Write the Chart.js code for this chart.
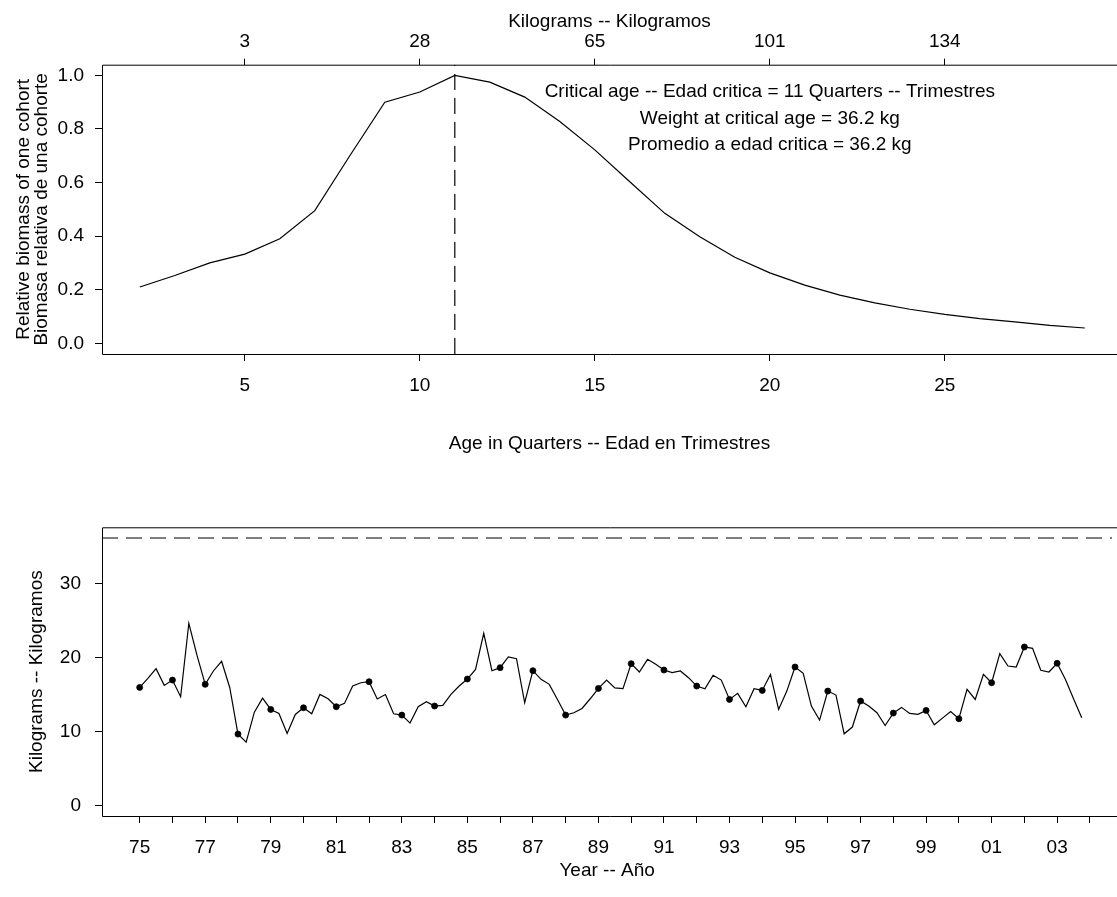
<!DOCTYPE html>
<html>
<head>
<meta charset="utf-8">
<title>Critical age and mean weight</title>
<script src="https://cdn.jsdelivr.net/npm/chart.js@4.4.0/dist/chart.umd.min.js"></script>
<style>
  html, body { margin: 0; padding: 0; background: #fff; overflow: hidden; }
  canvas { position: absolute; left: 0; }
  #cohortChart { top: 0; }
  #weightChart { top: 470px; }
</style>
</head>
<body>
<canvas id="cohortChart" width="1117" height="470"></canvas>
<canvas id="weightChart" width="1117" height="427"></canvas>
<script>
// --- top panel: relative biomass of one cohort by age (quarters)
const ages = [2, 3, 4, 5, 6, 7, 8, 9, 10, 11, 12, 13, 14, 15, 16, 17, 18, 19, 20, 21, 22, 23, 24, 25, 26, 27, 28, 29];
const relBiomass = [0.21, 0.253, 0.30, 0.333, 0.39, 0.495, 0.70, 0.90, 0.938, 1.0, 0.975, 0.919, 0.828, 0.722,
  0.603, 0.485, 0.398, 0.321, 0.263, 0.217, 0.180, 0.151, 0.127, 0.108, 0.092, 0.080, 0.067, 0.057];
const ageTicks = [5, 10, 15, 20, 25];
const kgTickLabels = ['3', '28', '65', '101', '134'];
const biomassTicks = [0, 0.2, 0.4, 0.6, 0.8, 1.0];
const criticalAge = 11;
const criticalWeight = 36.2;
const notes = [
  'Critical age -- Edad critica = 11 Quarters -- Trimestres',
  'Weight at critical age = 36.2 kg',
  'Promedio a edad critica = 36.2 kg',
];

// --- bottom panel: mean weight per quarter, 1975 Q1 onwards
const firstYear = 1975;
const quarterlyKg = [
  15.97, 17.2, 18.5, 16.24, 16.96, 14.7, 24.65, 20.3, 16.38, 18.19, 19.5, 15.92,
  9.64, 8.55, 12.62, 14.52, 12.98, 12.44, 9.73, 12.3, 13.21, 12.4, 15.02, 14.43,
  13.35, 13.8, 16.15, 16.6, 16.74, 14.4, 15.0, 12.4, 12.22, 11.13, 13.35, 14.02,
  13.44, 13.53, 15.02, 16.15, 17.1, 18.41, 23.3, 18.23, 18.64, 20.09, 19.86, 13.89,
  18.23, 17.06, 16.38, 14.34, 12.22, 12.53, 13.12, 14.43, 15.83, 16.96, 15.9, 15.79,
  19.18, 18.05, 19.77, 19.09, 18.32, 17.96, 18.19, 17.28, 16.15, 15.79, 17.6, 16.96,
  14.34, 15.16, 13.35, 15.79, 15.56, 17.73, 12.98, 15.47, 18.73, 17.87, 13.44, 11.54,
  15.47, 14.93, 9.68, 10.6, 14.12, 13.44, 12.53, 10.81, 12.49, 13.26, 12.44, 12.31,
  12.85, 10.9, 11.81, 12.71, 11.72, 15.7, 14.34, 17.73, 16.6, 20.54, 18.86, 18.73,
  21.44, 21.26, 18.28, 18.05, 19.23, 17.06, 14.43, 11.85,
];
const yearTicks = [1975, 1976, 1977, 1978, 1979, 1980, 1981, 1982, 1983, 1984, 1985, 1986, 1987, 1988, 1989,
  1990, 1991, 1992, 1993, 1994, 1995, 1996, 1997, 1998, 1999, 2000, 2001, 2002, 2003, 2004];
const kgTicks = [0, 10, 20, 30];

Chart.defaults.font.family = "'Liberation Sans', Arial, sans-serif";
Chart.defaults.font.size = 19;
Chart.defaults.color = '#000';

const fixedTicks = (values) => (scale) => {
  scale.ticks = values.map((v) => ({ value: v }));
};

const frame = {
  id: 'frame',
  afterDraw(chart) {
    const { ctx, chartArea: a } = chart;
    ctx.save();
    ctx.strokeStyle = '#000';
    ctx.lineWidth = 1;
    ctx.beginPath();
    ctx.moveTo(a.right + 20, a.top + 0.5);
    ctx.lineTo(a.left + 0.5, a.top + 0.5);
    ctx.lineTo(a.left + 0.5, a.bottom + 0.5);
    ctx.lineTo(a.right + 20, a.bottom + 0.5);
    ctx.stroke();
    ctx.restore();
  },
};

const noteText = {
  id: 'noteText',
  afterDatasetsDraw(chart) {
    const { ctx, scales } = chart;
    ctx.save();
    ctx.fillStyle = '#000';
    ctx.font = "19px 'Liberation Sans', Arial, sans-serif";
    ctx.textAlign = 'center';
    ctx.textBaseline = 'middle';
    notes.forEach((line, i) => {
      ctx.fillText(line, scales.x.getPixelForValue(20), scales.y.getPixelForValue(0.94 - i * 0.1));
    });
    ctx.restore();
  },
};

const axisGrid = (len) => ({ drawOnChartArea: false, color: '#000', tickLength: len, tickWidth: 1 });

new Chart(document.getElementById('cohortChart'), {
  type: 'line',
  data: {
    datasets: [
      {
        data: ages.map((a, i) => ({ x: a, y: relBiomass[i] })),
        borderColor: '#000',
        borderWidth: 1.2,
        pointRadius: 0,
      },
      {
        data: [{ x: criticalAge, y: -0.04 }, { x: criticalAge, y: 1.04 }],
        borderColor: '#000',
        borderWidth: 1.2,
        borderDash: [16, 8],
        pointRadius: 0,
      },
    ],
  },
  options: {
    responsive: false,
    animation: false,
    devicePixelRatio: 1,
    events: [],
    layout: { padding: 0 },
    plugins: { legend: { display: false }, tooltip: { enabled: false } },
    scales: {
      x: {
        type: 'linear',
        min: 0.92,
        max: 29.92,
        afterBuildTicks: fixedTicks(ageTicks),
        afterFit: (s) => { s.height = 116; },
        grid: axisGrid(7),
        border: { display: false },
        ticks: { padding: 13, maxRotation: 0 },
        title: {
          display: true,
          text: 'Age in Quarters -- Edad en Trimestres',
          padding: { bottom: 15 },
        },
      },
      x2: {
        type: 'linear',
        position: 'top',
        min: 0.92,
        max: 29.92,
        afterBuildTicks: fixedTicks(ageTicks),
        afterFit: (s) => { s.height = 64.7; },
        grid: axisGrid(6),
        border: { display: false },
        ticks: { padding: 6, maxRotation: 0, callback: (v, i) => kgTickLabels[i] },
        title: { display: true, text: 'Kilograms -- Kilogramos', padding: { top: 10 } },
      },
      y: {
        min: -0.04,
        max: 1.04,
        afterBuildTicks: fixedTicks(biomassTicks),
        afterFit: (s) => { s.width = 102; },
        grid: axisGrid(7),
        border: { display: false },
        ticks: { padding: 11, callback: (v) => v.toFixed(1) },
        title: {
          display: true,
          text: ['Relative biomass of one cohort', 'Biomasa relativa de una cohorte'],
          font: { lineHeight: 0.95 },
          padding: { top: 15 },
        },
      },
    },
  },
  plugins: [frame, noteText],
});

const weightPoints = quarterlyKg.map((v, i) => ({ x: firstYear + i / 4, y: v }));

new Chart(document.getElementById('weightChart'), {
  type: 'line',
  data: {
    datasets: [
      {
        data: weightPoints,
        borderColor: '#000',
        borderWidth: 1.2,
        pointRadius: 0,
      },
      {
        data: weightPoints.filter((p, i) => i % 4 === 0),
        showLine: false,
        pointRadius: 3,
        pointBorderWidth: 0.8,
        pointBackgroundColor: '#000',
        pointBorderColor: '#000',
      },
      {
        data: [{ x: 1973.85, y: criticalWeight }, { x: 2004.68, y: criticalWeight }],
        borderColor: '#000',
        borderWidth: 1.2,
        borderDash: [16, 8],
        pointRadius: 0,
      },
    ],
  },
  options: {
    responsive: false,
    animation: false,
    devicePixelRatio: 1,
    events: [],
    layout: { padding: { top: 57.3, left: 0, right: 0, bottom: 0 } },
    plugins: { legend: { display: false }, tooltip: { enabled: false } },
    scales: {
      x: {
        type: 'linear',
        min: 1973.85,
        max: 2004.68,
        afterBuildTicks: fixedTicks(yearTicks),
        afterFit: (s) => { s.height = 81; },
        grid: axisGrid(7),
        border: { display: false },
        ticks: {
          padding: 13,
          maxRotation: 0,
          autoSkip: false,
          callback: (v) => (v % 2 === 1 ? String(v).slice(2) : ''),
        },
        title: { display: true, text: 'Year -- Año', padding: { bottom: 15 } },
      },
      y: {
        min: -1.45,
        max: 37.65,
        afterBuildTicks: fixedTicks(kgTicks),
        afterFit: (s) => { s.width = 102; },
        grid: axisGrid(7),
        border: { display: false },
        ticks: { padding: 14 },
        title: { display: true, text: 'Kilograms -- Kilogramos', padding: { top: 25 } },
      },
    },
  },
  plugins: [frame],
});
</script>
</body>
</html>
